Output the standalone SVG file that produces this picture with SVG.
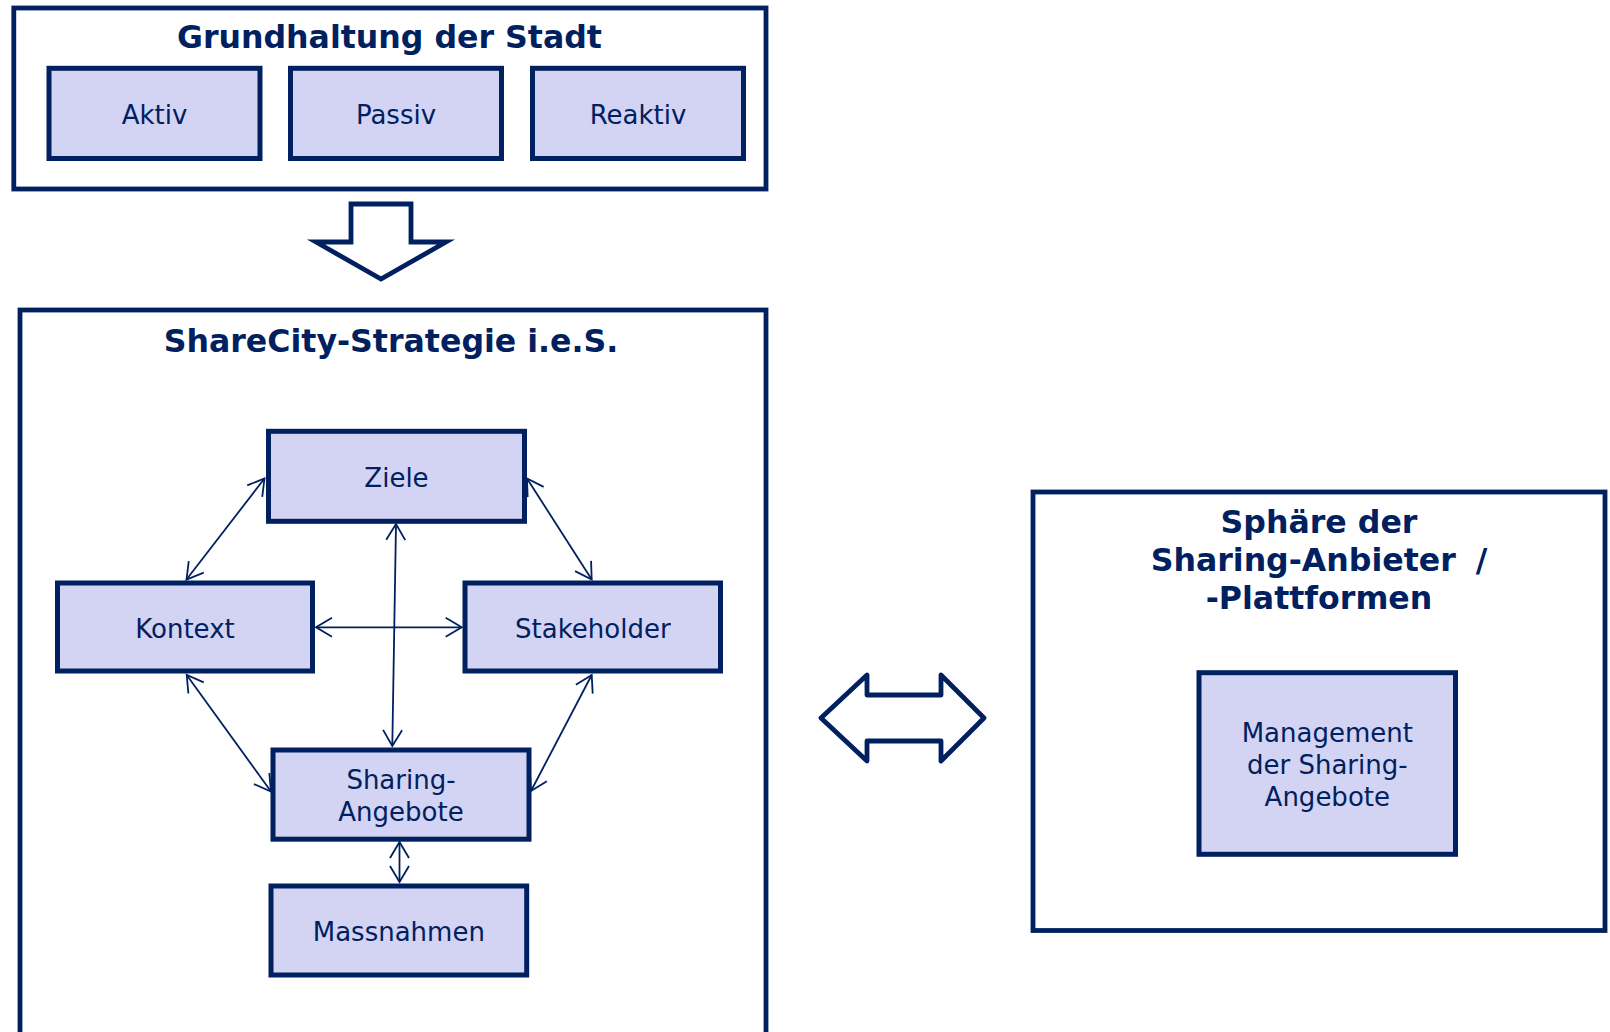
<svg xmlns="http://www.w3.org/2000/svg" width="1610" height="1032" viewBox="0 0 1610 1032">
  <style>
    .frame { fill: #ffffff; stroke: #002060; stroke-width: 4.8; }
    .box { fill: #d3d3f3; stroke: #002060; stroke-width: 5; }
    .title { font-family: "DejaVu Sans", Verdana, sans-serif; font-weight: bold; font-size: 31.6px; fill: #002060; text-anchor: middle; }
    .label { font-family: "DejaVu Sans", Verdana, sans-serif; font-size: 26px; fill: #002060; text-anchor: middle; }
    .link { stroke: #002060; stroke-width: 1.8; fill: none; marker-start: url(#head); marker-end: url(#head); }
    .bigarrow { fill: #ffffff; stroke: #002060; stroke-width: 4.8; }
  </style>
  <defs>
    <marker id="head" markerUnits="userSpaceOnUse" viewBox="-20 -12 24 24" refX="0" refY="0" markerWidth="24" markerHeight="24" orient="auto-start-reverse" overflow="visible">
      <path d="M-16,-9.5 L0,0 L-16,9.5" fill="none" stroke="#002060" stroke-width="1.8" stroke-linejoin="miter"/>
    </marker>
  </defs>
  <rect width="1610" height="1032" fill="#ffffff"/>

  <!-- City's basic stance -->
  <g id="grundhaltung">
    <rect class="frame" x="13.8" y="8" width="752.2" height="181"/>
    <text class="title" x="389.5" y="48.3">Grundhaltung der Stadt</text>
  </g>
  <g id="aktiv">
    <rect class="box" x="49" y="68.3" width="211" height="90.2"/>
    <text class="label" x="154.5" y="124">Aktiv</text>
  </g>
  <g id="passiv">
    <rect class="box" x="290.5" y="68.3" width="211" height="90.2"/>
    <text class="label" x="396" y="124">Passiv</text>
  </g>
  <g id="reaktiv">
    <rect class="box" x="532.5" y="68.3" width="211" height="90.2"/>
    <text class="label" x="638" y="124">Reaktiv</text>
  </g>

  <!-- Block arrow down -->
  <g id="arrow-down">
    <polygon class="bigarrow" points="351,204 411,204 411,242 446,242 381,279 316,242 351,242" stroke-linejoin="miter"/>
  </g>

  <!-- Strategy frame -->
  <g id="sharecity">
    <rect class="frame" x="20" y="310" width="746" height="760" stroke-width="5"/>
    <text class="title" x="391" y="351.7">ShareCity-Strategie i.e.S.</text>
  </g>
  <g id="ziele">
    <rect class="box" x="268.5" y="431.3" width="256" height="90"/>
    <text class="label" x="396.5" y="486.7">Ziele</text>
  </g>
  <g id="kontext">
    <rect class="box" x="57.5" y="583" width="255" height="88"/>
    <text class="label" x="185" y="638">Kontext</text>
  </g>
  <g id="stakeholder">
    <rect class="box" x="465" y="583" width="255.5" height="88"/>
    <text class="label" x="592.8" y="638">Stakeholder</text>
  </g>
  <g id="sharing-angebote">
    <rect class="box" x="273" y="750" width="256" height="89.2"/>
    <text class="label" x="401" y="789.3">Sharing-</text>
    <text class="label" x="401" y="821">Angebote</text>
  </g>
  <g id="massnahmen">
    <rect class="box" x="271" y="886" width="255.7" height="89"/>
    <text class="label" x="398.8" y="941">Massnahmen</text>
  </g>

  <!-- Connectors -->
  <g id="connectors">
    <line class="link" x1="264.5" y1="478.5" x2="186.5" y2="579.5"/>
    <line class="link" x1="527" y1="478.5" x2="591.7" y2="579.5"/>
    <line class="link" x1="316" y1="627.3" x2="461.7" y2="627.3"/>
    <line class="link" x1="396" y1="524" x2="392.3" y2="746"/>
    <line class="link" x1="186.7" y1="675" x2="271" y2="791.5"/>
    <line class="link" x1="591.7" y1="675" x2="531" y2="791"/>
    <line class="link" x1="399.5" y1="842" x2="399.5" y2="882"/>
  </g>

  <!-- Block arrow both ways -->
  <g id="arrow-both">
    <polygon class="bigarrow" points="821,718 867,675 867,695 941,695 941,675 984,718 941,761 941,741 867,741 867,761" stroke-linejoin="round"/>
  </g>

  <!-- Providers frame -->
  <g id="anbieter">
    <rect class="frame" x="1033" y="492" width="572" height="438.5"/>
    <text class="title" x="1319" y="532.7">Sphäre der</text>
    <text class="title" x="1319" y="571">Sharing-Anbieter <tspan dx="9">/</tspan></text>
    <text class="title" x="1319" y="609.3">-Plattformen</text>
  </g>
  <g id="management">
    <rect class="box" x="1199" y="672.7" width="256.5" height="181.6"/>
    <text class="label" x="1327.3" y="741.7">Management</text>
    <text class="label" x="1327.3" y="774">der Sharing-</text>
    <text class="label" x="1327.3" y="806">Angebote</text>
  </g>
</svg>
